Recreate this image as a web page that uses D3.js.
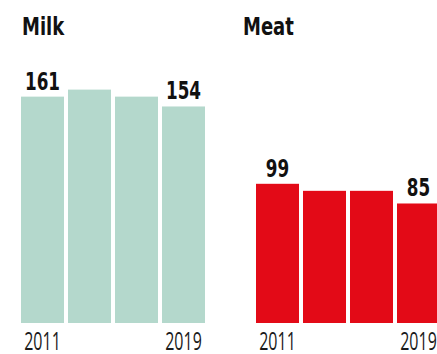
<!DOCTYPE html>
<html><head><meta charset="utf-8">
<script src="https://cdn.jsdelivr.net/npm/d3@7"></script>
<style>html,body{margin:0;padding:0;background:#fff;}svg{display:block;}</style>
</head><body>
<svg id="c" width="437" height="354"></svg>
<script>
const years = ["2011", "2013", "2016", "2019"];
const milkValues = [161, 166, 161, 154];
const meatValues = [99, 94, 94, 85];
const panelTitles = ["Milk", "Meat"];
const tickLabels = ["2011", "2019"];

const svg = d3.select("#c");
const y = d3.scaleLinear().domain([0, 170]).range([323, 323 - 170 * 1.406]);

const panels = [
  {title: panelTitles[0], values: milkValues, color: "#b4d8cc", range: [21, 205], titleX: 22},
  {title: panelTitles[1], values: meatValues, color: "#e30a17", range: [256, 440], titleX: 243}
];

function sText(g, x, yy, txt, opts) {
  g.append("text")
    .attr("transform", `translate(${x},${yy}) scale(${opts.sx},1)`)
    .attr("text-anchor", opts.anchor || "middle")
    .attr("font-family", opts.family)
    .attr("font-weight", opts.weight)
    .attr("font-size", opts.size)
    .attr("fill", opts.fill || "#111")
    .text(txt);
}

panels.forEach(p => {
  const g = svg.append("g");
  const x = d3.scaleBand().domain(years).range(p.range).paddingInner(0.085).paddingOuter(0);
  g.selectAll("rect").data(p.values).join("rect")
    .attr("x", (d, i) => x(years[i]))
    .attr("width", x.bandwidth())
    .attr("y", d => y(d))
    .attr("height", d => y(0) - y(d))
    .attr("fill", p.color);

  sText(g, p.titleX, 35, p.title, {sx: 0.75, anchor: "start", family: "DejaVu Sans", weight: "bold", size: 24});

  const first = 0, last = p.values.length - 1;
  [first, last].forEach(i => {
    const cx = x(years[i]) + x.bandwidth() / 2;
    sText(g, cx, y(p.values[i]) - 7, String(p.values[i]), {sx: 0.7, family: "DejaVu Sans", weight: "bold", size: 24});
  });
  const xa = d3.axisBottom(x).tickValues(tickLabels).tickSize(0).tickPadding(0);
  const ag = g.append("g").attr("transform", `translate(0,350)`).call(xa);
  ag.select(".domain").remove();
  ag.selectAll(".tick text").remove();
  ag.selectAll(".tick").each(function(d) {
    sText(d3.select(this), 0, 0, d, {sx: 0.64, family: "Open Sans", weight: 400, size: 25, fill: "#1a1a1a"});
  });
});
</script>
</body></html>
